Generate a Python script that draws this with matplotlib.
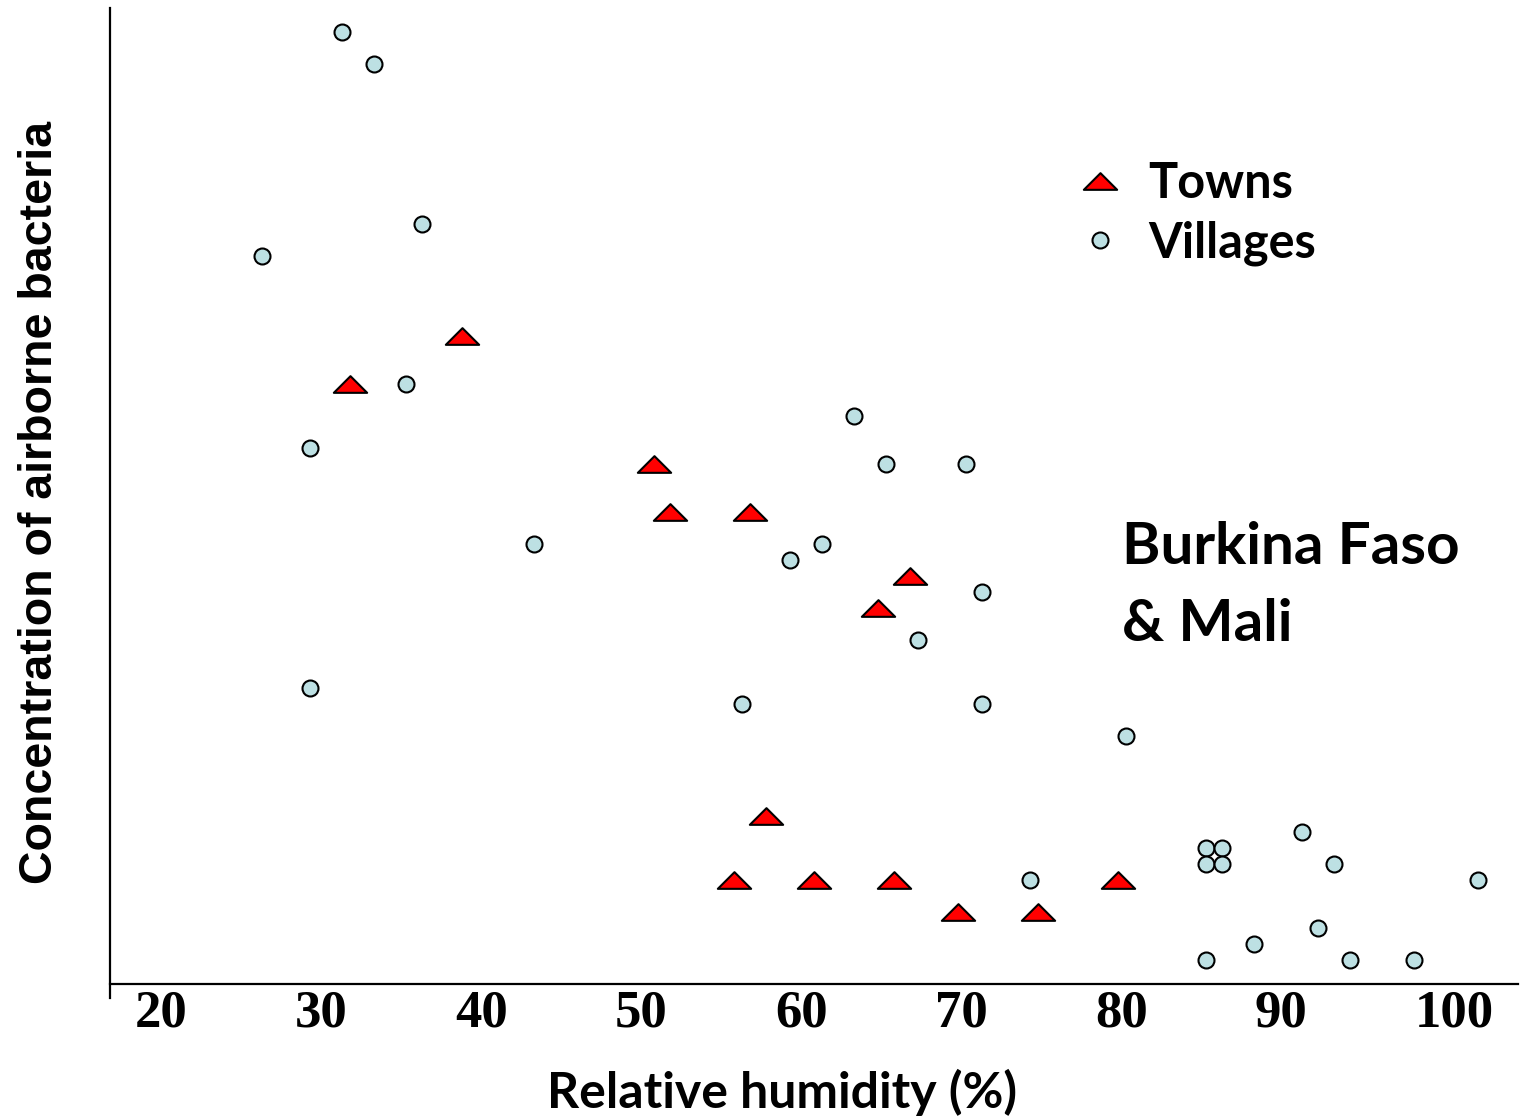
import numpy as np
import matplotlib
matplotlib.use("Agg")
import matplotlib.pyplot as plt
from matplotlib.path import Path
from matplotlib.transforms import ScaledTranslation

# relative humidity (%) and concentration (arbitrary units, no y scale shown)
town_rh = [38.9, 31.9, 50.9, 51.9, 56.9, 66.9, 64.9, 57.9, 55.9, 60.9, 65.9, 79.9, 69.9, 74.9]
town_conc = [40.5, 37.5, 32.5, 29.5, 29.5, 25.5, 23.5, 10.5, 6.5, 6.5, 6.5, 6.5, 4.5, 4.5]

village_rh = [31.4, 33.4, 36.4, 26.4, 35.4, 29.4, 63.4, 65.4, 70.4, 43.4, 61.4, 59.4,
              71.4, 67.4, 29.4, 56.4, 71.4, 80.4, 91.4, 85.4, 86.4, 85.4, 86.4, 93.4,
              74.4, 102.4, 92.4, 88.4, 85.4, 94.4, 98.4]
village_conc = [59.5, 57.5, 47.5, 45.5, 37.5, 33.5, 35.5, 32.5, 32.5, 27.5, 27.5, 26.5,
                24.5, 21.5, 18.5, 17.5, 17.5, 15.5, 9.5, 8.5, 8.5, 7.5, 7.5, 7.5,
                6.5, 6.5, 3.5, 2.5, 1.5, 1.5, 1.5]

xticks = [20, 30, 40, 50, 60, 70, 80, 90, 100]

SANS = "Lato"

# flat triangle marker
tri = Path([(-1, -0.5), (1, -0.5), (0, 0.5), (-1, -0.5)],
           [Path.MOVETO, Path.LINETO, Path.LINETO, Path.CLOSEPOLY])

fig = plt.figure(figsize=(15.24, 11.18), dpi=100)
ax = fig.add_axes([110 / 1524, 120 / 1118, 1408 / 1524, 990 / 1118])

ax.plot(town_rh, town_conc, linestyle="none", marker=tri, markersize=24,
        markerfacecolor="#ff0000", markeredgecolor="black", markeredgewidth=1.5,
        label="Towns")
ax.plot(village_rh, village_conc, linestyle="none", marker="o", markersize=11.5,
        markerfacecolor="#bde0e3", markeredgecolor="black", markeredgewidth=1.5,
        label="Villages")

ax.set_xlim(16.875, 104.875)
ax.set_ylim(-0.875, 61)

for s in ["top", "right"]:
    ax.spines[s].set_visible(False)
ax.spines["bottom"].set_position(("data", 0))
ax.spines["bottom"].set_linewidth(1.6)
ax.spines["left"].set_linewidth(1.6)

ax.set_yticks([])
ax.set_xticks(xticks)
ax.set_xticklabels([str(t) for t in xticks], family="Liberation Serif",
                   fontweight="bold", fontsize=38)
ax.tick_params(axis="x", length=0, pad=4)
# labels are left-aligned like text boxes, so "100" sits right of its tick
shift = ScaledTranslation(-0.25, 0, fig.dpi_scale_trans)
for lab in ax.get_xticklabels():
    lab.set_horizontalalignment("left")
    lab.set_transform(lab.get_transform() + shift)

ax.set_xlabel("Relative humidity (%)", family=SANS, fontweight="bold",
              fontsize=36)
ax.xaxis.set_label_coords(0.477, -0.072)
ax.set_ylabel("Concentration of airborne bacteria", family="Liberation Sans",
              fontweight="bold", fontsize=33.5)
ax.yaxis.set_label_coords(-0.034, 0.5)

ax.text(0.719, 0.416, "Burkina Faso\n& Mali", transform=ax.transAxes,
        family=SANS, fontweight="bold", fontsize=42, va="center", ha="left",
        linespacing=1.57)

leg = ax.legend(loc="upper left", bbox_to_anchor=(0.651, 0.89), frameon=False,
                prop={"family": SANS, "weight": "bold", "size": 35},
                handletextpad=0.4, labelspacing=0.3, handlelength=1.2)

fig.savefig("out.png", dpi=100)
